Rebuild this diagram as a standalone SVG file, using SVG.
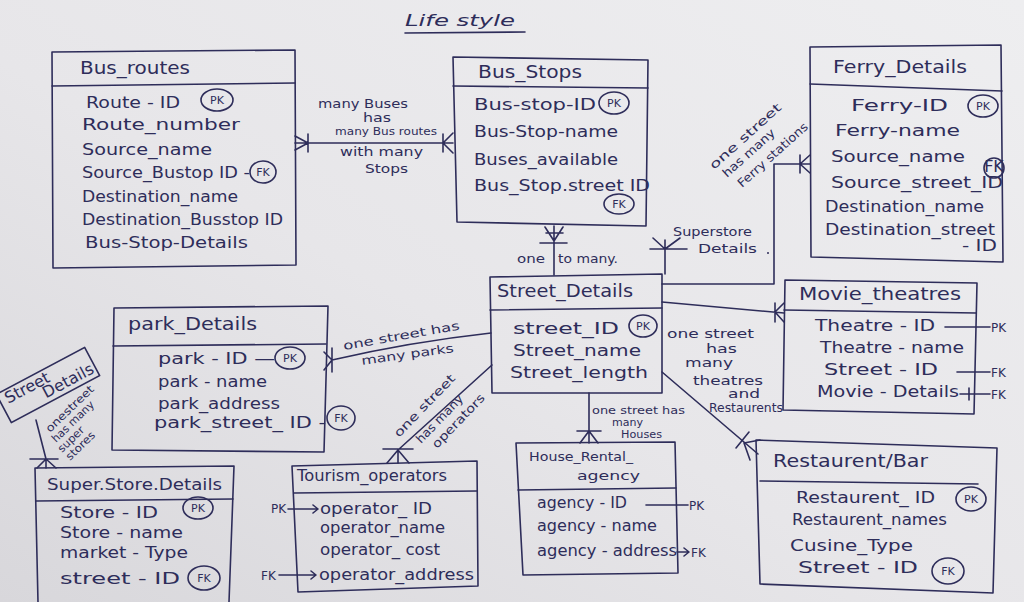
<svg xmlns="http://www.w3.org/2000/svg" width="1024" height="602" viewBox="0 0 1024 602">
  <defs>
    <linearGradient id="paper" x1="1" y1="0" x2="0" y2="1">
      <stop offset="0" stop-color="#eeeef0"/>
      <stop offset="0.55" stop-color="#e7e6e9"/>
      <stop offset="1" stop-color="#d8d7db"/>
    </linearGradient>
    <style>
      .ink{fill:none;stroke:#2e2d5a;stroke-width:1.6;stroke-linecap:round;stroke-linejoin:round}
      .t{font-family:"DejaVu Sans","Liberation Sans",sans-serif;fill:#2e2d5a;font-size:16px}
      .h{font-size:17px}
      .s{font-size:12px}
      .xs{font-size:11px}
      .k{font-size:11px}
    </style>
  </defs>

  <rect x="0" y="0" width="1024" height="602" fill="url(#paper)"/>

  <!-- page title -->
  <g id="title">
    <text class="t" x="405" y="26" font-size="20" font-style="italic" textLength="110" lengthAdjust="spacingAndGlyphs">Life style</text>
    <path class="ink" d="M405,33 L525,32"/>
  </g>

  <!-- Bus_routes -->
  <g id="bus_routes">
    <path class="ink" d="M52,52 L295,50 L296,265 L53,268 Z"/>
    <path class="ink" d="M52,86 L295,83"/>
    <text class="t h" x="80" y="74" textLength="110" lengthAdjust="spacingAndGlyphs">Bus_routes</text>
    <text class="t" x="86" y="108" textLength="94" lengthAdjust="spacingAndGlyphs">Route - ID</text>
    <ellipse class="ink" cx="217" cy="100" rx="16" ry="11"/>
    <text class="t k" x="217" y="104" text-anchor="middle">PK</text>
    <text class="t" x="82" y="130" textLength="158" lengthAdjust="spacingAndGlyphs">Route_number</text>
    <text class="t" x="82" y="155" textLength="130" lengthAdjust="spacingAndGlyphs">Source_name</text>
    <text class="t" x="82" y="178" textLength="168" lengthAdjust="spacingAndGlyphs">Source_Bustop ID -</text>
    <ellipse class="ink" cx="263" cy="172" rx="13" ry="11"/>
    <text class="t k" x="263" y="176" text-anchor="middle">FK</text>
    <text class="t" x="82" y="202" textLength="156" lengthAdjust="spacingAndGlyphs">Destination_name</text>
    <text class="t" x="82" y="225" textLength="201" lengthAdjust="spacingAndGlyphs">Destination_Busstop ID</text>
    <text class="t" x="85" y="248" textLength="163" lengthAdjust="spacingAndGlyphs">Bus-Stop-Details</text>
  </g>

  <!-- Bus_Stops -->
  <g id="bus_stops">
    <path class="ink" d="M453,57 L648,60 L646,226 L457,222 Z"/>
    <path class="ink" d="M453,86 L648,88"/>
    <text class="t h" x="478" y="78" textLength="104" lengthAdjust="spacingAndGlyphs">Bus_Stops</text>
    <text class="t" x="474" y="110" textLength="122" lengthAdjust="spacingAndGlyphs">Bus-stop-ID</text>
    <ellipse class="ink" cx="614" cy="103" rx="15" ry="11"/>
    <text class="t k" x="614" y="107" text-anchor="middle">PK</text>
    <text class="t" x="474" y="137" textLength="144" lengthAdjust="spacingAndGlyphs">Bus-Stop-name</text>
    <text class="t" x="474" y="165" textLength="144" lengthAdjust="spacingAndGlyphs">Buses_available</text>
    <text class="t" x="474" y="191" textLength="176" lengthAdjust="spacingAndGlyphs">Bus_Stop.street ID</text>
    <ellipse class="ink" cx="619" cy="204" rx="15" ry="10"/>
    <text class="t k" x="619" y="208" text-anchor="middle">FK</text>
  </g>

  <!-- Ferry_Details -->
  <g id="ferry_details">
    <path class="ink" d="M810,47 L1001,45 L1003,262 L811,257 Z"/>
    <path class="ink" d="M810,84 L1002,91"/>
    <text class="t h" x="833" y="73" textLength="134" lengthAdjust="spacingAndGlyphs">Ferry_Details</text>
    <text class="t" x="851" y="111" textLength="97" lengthAdjust="spacingAndGlyphs">Ferry-ID</text>
    <ellipse class="ink" cx="983" cy="106" rx="15" ry="11"/>
    <text class="t k" x="983" y="110" text-anchor="middle">PK</text>
    <text class="t" x="835" y="136" textLength="125" lengthAdjust="spacingAndGlyphs">Ferry-name</text>
    <text class="t" x="831" y="162" textLength="134" lengthAdjust="spacingAndGlyphs">Source_name</text>
    <ellipse class="ink" cx="994" cy="168" rx="10" ry="10"/>
    <text class="t" x="994" y="172" text-anchor="middle" font-size="10">FK</text>
    <text class="t" x="831" y="188" textLength="172" lengthAdjust="spacingAndGlyphs">Source_street_ID</text>
    <text class="t" x="825" y="212" textLength="159" lengthAdjust="spacingAndGlyphs">Destination_name</text>
    <text class="t" x="825" y="235" textLength="170" lengthAdjust="spacingAndGlyphs">Destination_street</text>
    <text class="t" x="962" y="251" textLength="35" lengthAdjust="spacingAndGlyphs">- ID</text>
  </g>

  <!-- Street_Details -->
  <g id="street_details">
    <path class="ink" d="M490,277 L662,274 L662,393 L492,393 Z"/>
    <path class="ink" d="M490,310 L662,308"/>
    <text class="t h" x="497" y="297" textLength="136" lengthAdjust="spacingAndGlyphs">Street_Details</text>
    <text class="t" x="513" y="334" textLength="106" lengthAdjust="spacingAndGlyphs">street_ID</text>
    <ellipse class="ink" cx="643" cy="326" rx="14" ry="11"/>
    <text class="t k" x="643" y="330" text-anchor="middle">PK</text>
    <text class="t" x="513" y="356" textLength="128" lengthAdjust="spacingAndGlyphs">Street_name</text>
    <text class="t" x="510" y="378" textLength="138" lengthAdjust="spacingAndGlyphs">Street_length</text>
  </g>

  <!-- Movie_theatres -->
  <g id="movie_theatres">
    <path class="ink" d="M785,280 L977,283 L974,414 L783,410 Z"/>
    <path class="ink" d="M784,310 L976,313"/>
    <text class="t h" x="799" y="300" textLength="162" lengthAdjust="spacingAndGlyphs">Movie_theatres</text>
    <text class="t" x="815" y="331" textLength="120" lengthAdjust="spacingAndGlyphs">Theatre - ID</text>
    <path class="ink" d="M945,327 H990"/>
    <text class="t s" x="991" y="332">PK</text>
    <text class="t" x="820" y="353" textLength="144" lengthAdjust="spacingAndGlyphs">Theatre - name</text>
    <text class="t" x="824" y="375" textLength="114" lengthAdjust="spacingAndGlyphs">Street - ID</text>
    <path class="ink" d="M957,372 H990"/>
    <text class="t s" x="991" y="377">FK</text>
    <text class="t" x="817" y="397" textLength="142" lengthAdjust="spacingAndGlyphs">Movie - Details</text>
    <path class="ink" d="M960,394 H990 M969,388 V400"/>
    <text class="t s" x="991" y="399">FK</text>
  </g>

  <!-- park_Details -->
  <g id="park_details">
    <path class="ink" d="M114,308 L328,306 L324,452 L112,450 Z"/>
    <path class="ink" d="M113,346 L326,344"/>
    <text class="t h" x="128" y="330" textLength="129" lengthAdjust="spacingAndGlyphs">park_Details</text>
    <text class="t" x="158" y="364" textLength="117" lengthAdjust="spacingAndGlyphs">park - ID —</text>
    <ellipse class="ink" cx="290" cy="358" rx="15" ry="11"/>
    <text class="t k" x="290" y="362" text-anchor="middle">PK</text>
    <text class="t" x="158" y="387" textLength="109" lengthAdjust="spacingAndGlyphs">park - name</text>
    <text class="t" x="158" y="409" textLength="122" lengthAdjust="spacingAndGlyphs">park_address</text>
    <text class="t" x="154" y="428" textLength="172" lengthAdjust="spacingAndGlyphs">park_street_ ID -</text>
    <ellipse class="ink" cx="341" cy="418" rx="14" ry="12"/>
    <text class="t k" x="341" y="422" text-anchor="middle">FK</text>
  </g>

  <!-- House_Rental_agency -->
  <g id="house_rental_agency">
    <path class="ink" d="M516,443 L675,442 L678,573 L523,575 Z"/>
    <path class="ink" d="M518,490 L676,488"/>
    <text class="t s" x="529" y="461" textLength="104" lengthAdjust="spacingAndGlyphs">House_Rental_</text>
    <text class="t s" x="577" y="480" textLength="63" lengthAdjust="spacingAndGlyphs">agency</text>
    <text class="t" x="537" y="508" font-size="14" textLength="90" lengthAdjust="spacingAndGlyphs">agency - ID</text>
    <path class="ink" d="M646,505 H688"/>
    <text class="t s" x="689" y="510">PK</text>
    <text class="t" x="537" y="531" font-size="14" textLength="120" lengthAdjust="spacingAndGlyphs">agency - name</text>
    <text class="t" x="537" y="556" font-size="14" textLength="140" lengthAdjust="spacingAndGlyphs">agency - address</text>
    <path class="ink" d="M677,552 H688 M684,548 L689,552 L684,556"/>
    <text class="t s" x="691" y="557">FK</text>
  </g>

  <!-- Restaurent/Bar -->
  <g id="restaurent_bar">
    <path class="ink" d="M756,440 L997,448 L993,593 L760,584 Z"/>
    <path class="ink" d="M760,481 L978,484"/>
    <text class="t h" x="773" y="467" textLength="155" lengthAdjust="spacingAndGlyphs">Restaurent/Bar</text>
    <text class="t" x="796" y="503" textLength="139" lengthAdjust="spacingAndGlyphs">Restaurent_ ID</text>
    <ellipse class="ink" cx="971" cy="499" rx="15" ry="12"/>
    <text class="t k" x="971" y="503" text-anchor="middle">PK</text>
    <text class="t" x="792" y="525" textLength="155" lengthAdjust="spacingAndGlyphs">Restaurent_names</text>
    <text class="t" x="790" y="551" textLength="123" lengthAdjust="spacingAndGlyphs">Cusine_Type</text>
    <text class="t" x="798" y="573" textLength="120" lengthAdjust="spacingAndGlyphs">Street - ID</text>
    <ellipse class="ink" cx="948" cy="571" rx="16" ry="13"/>
    <text class="t k" x="948" y="575" text-anchor="middle">FK</text>
  </g>

  <!-- Tourism_operators -->
  <g id="tourism_operators">
    <path class="ink" d="M292,466 L477,461 L478,586 L298,592 Z"/>
    <path class="ink" d="M294,493 L477,491"/>
    <text class="t" x="297" y="481" font-size="15" textLength="150" lengthAdjust="spacingAndGlyphs">Tourism_operators</text>
    <text class="t s" x="271" y="513">PK</text>
    <path class="ink" d="M288,509 H318 M313,505 L318,509 L313,513"/>
    <text class="t" x="320" y="514" font-size="15" textLength="112" lengthAdjust="spacingAndGlyphs">operator_ ID</text>
    <text class="t" x="320" y="533" font-size="15" textLength="125" lengthAdjust="spacingAndGlyphs">operator_name</text>
    <text class="t" x="320" y="555" font-size="15" textLength="120" lengthAdjust="spacingAndGlyphs">operator_ cost</text>
    <text class="t s" x="261" y="580">FK</text>
    <path class="ink" d="M279,575 H316 M311,571 L316,575 L311,579"/>
    <text class="t" x="319" y="580" font-size="15" textLength="155" lengthAdjust="spacingAndGlyphs">operator_address</text>
  </g>

  <!-- Super.Store.Details -->
  <g id="super_store_details">
    <path class="ink" d="M35,468 L234,466 L229,602 M38,602 L35,468"/>
    <path class="ink" d="M36,501 L233,499"/>
    <text class="t" x="47" y="490" textLength="175" lengthAdjust="spacingAndGlyphs">Super.Store.Details</text>
    <text class="t" x="60" y="518" textLength="98" lengthAdjust="spacingAndGlyphs">Store - ID</text>
    <ellipse class="ink" cx="198" cy="508" rx="15" ry="11"/>
    <text class="t k" x="198" y="512" text-anchor="middle">PK</text>
    <text class="t" x="60" y="538" textLength="123" lengthAdjust="spacingAndGlyphs">Store - name</text>
    <text class="t" x="60" y="558" textLength="128" lengthAdjust="spacingAndGlyphs">market - Type</text>
    <text class="t" x="60" y="584" textLength="120" lengthAdjust="spacingAndGlyphs">street - ID</text>
    <ellipse class="ink" cx="204" cy="578" rx="16" ry="12"/>
    <text class="t k" x="204" y="582" text-anchor="middle">FK</text>
  </g>

  <!-- small tilted Street Details tag -->
  <g id="street_details_tag" transform="translate(48,385) rotate(-28)">
    <rect class="ink" x="-50" y="-16" width="100" height="32"/>
    <text class="t" x="-44" y="-2" font-size="12">Street</text>
    <text class="t" x="-8" y="11" font-size="12">Details</text>
  </g>

  <!-- relationships -->
  <g id="connectors">
    <!-- Bus_routes : Bus_Stops -->
    <path class="ink" d="M295,143 H453 M295,136 L308,143 L295,150 M308,134 V152 M443,134 V152 M443,143 L453,133 M443,143 L453,153"/>
    <text class="t s" x="318" y="108" textLength="90" lengthAdjust="spacingAndGlyphs">many Buses</text>
    <text class="t s" x="363" y="122" textLength="28" lengthAdjust="spacingAndGlyphs">has</text>
    <text class="t xs" x="335" y="135" textLength="102" lengthAdjust="spacingAndGlyphs">many Bus routes</text>
    <text class="t s" x="340" y="156" textLength="83" lengthAdjust="spacingAndGlyphs">with many</text>
    <text class="t s" x="365" y="173" textLength="43" lengthAdjust="spacingAndGlyphs">Stops</text>

    <!-- Bus_Stops : Street_Details -->
    <path class="ink" d="M554,226 V275 M546,233 H563 M540,243 H567 M554,241 L545,227 M554,241 L563,227"/>
    <text class="t s" x="517" y="263" textLength="28" lengthAdjust="spacingAndGlyphs">one</text>
    <text class="t s" x="558" y="263" textLength="60" lengthAdjust="spacingAndGlyphs">to many.</text>

    <!-- Superstore details -->
    <path class="ink" d="M665,240 V274 M650,249 H687 M665,249 L653,238 M665,249 L680,238"/>
    <text class="t s" x="673" y="236" textLength="79" lengthAdjust="spacingAndGlyphs">Superstore</text>
    <text class="t s" x="698" y="253" textLength="59" lengthAdjust="spacingAndGlyphs">Details</text>
    <circle cx="768" cy="253" r="1" fill="#2e2d5a"/>

    <!-- Street_Details : Ferry_Details -->
    <path class="ink" d="M662,284 H774 V164 H810 M800,155 V173 M800,164 L810,155 M800,164 L810,173"/>
    <text class="t s" transform="translate(714,170) rotate(-42)" textLength="92" lengthAdjust="spacingAndGlyphs">one street</text>
    <text class="t s" transform="translate(727,178) rotate(-42)" textLength="66" lengthAdjust="spacingAndGlyphs">has many</text>
    <text class="t s" transform="translate(742,188) rotate(-42)" textLength="90" lengthAdjust="spacingAndGlyphs">Ferry stations</text>

    <!-- Street_Details : Movie_theatres -->
    <path class="ink" d="M662,302 L784,313 M775,303 V322 M775,312 L784,303 M775,312 L784,322"/>

    <!-- Street_Details : Restaurent/Bar -->
    <path class="ink" d="M662,372 L758,454 M749,432 L736,448 M744,443 L760,440 M744,443 L750,460"/>
    <text class="t s" x="667" y="338" textLength="87" lengthAdjust="spacingAndGlyphs">one street</text>
    <text class="t s" x="706" y="353" textLength="31" lengthAdjust="spacingAndGlyphs">has</text>
    <text class="t s" x="685" y="367" textLength="48" lengthAdjust="spacingAndGlyphs">many</text>
    <text class="t s" x="693" y="385" textLength="70" lengthAdjust="spacingAndGlyphs">theatres</text>
    <text class="t s" x="728" y="398" textLength="32" lengthAdjust="spacingAndGlyphs">and</text>
    <text class="t s" x="709" y="412" textLength="74" lengthAdjust="spacingAndGlyphs">Restaurents</text>

    <!-- Street_Details : House_Rental_agency -->
    <path class="ink" d="M589,393 V443 M577,431 H601 M589,431 L580,443 M589,431 L598,443"/>
    <text class="t xs" x="592" y="414" textLength="93" lengthAdjust="spacingAndGlyphs">one street has</text>
    <text class="t xs" x="612" y="426" textLength="31" lengthAdjust="spacingAndGlyphs">many</text>
    <text class="t xs" x="621" y="438" textLength="41" lengthAdjust="spacingAndGlyphs">Houses</text>

    <!-- Street_Details : park_Details -->
    <path class="ink" d="M491,333 Q410,342 332,360 M332,348 V372 M332,360 L324,352 M332,360 L324,370"/>
    <text class="t s" transform="translate(344,350) rotate(-10)" textLength="118" lengthAdjust="spacingAndGlyphs">one street has</text>
    <text class="t s" transform="translate(362,365) rotate(-8)" textLength="93" lengthAdjust="spacingAndGlyphs">many parks</text>

    <!-- Street_Details : Tourism_operators -->
    <path class="ink" d="M492,365 L398,450 V463 M383,449 H413 M398,450 L387,463 M398,450 L409,463"/>
    <text class="t s" transform="translate(399,438) rotate(-46)" textLength="82" lengthAdjust="spacingAndGlyphs">one street</text>
    <text class="t s" transform="translate(421,444) rotate(-46)" textLength="62" lengthAdjust="spacingAndGlyphs">has many</text>
    <text class="t s" transform="translate(437,449) rotate(-46)" textLength="70" lengthAdjust="spacingAndGlyphs">operators</text>

    <!-- Street Details tag : Super.Store.Details -->
    <path class="ink" d="M36,420 L46,459 M30,459 H58 M46,459 L37,468 M46,459 V468 M46,459 L56,468"/>
    <text class="t xs" transform="translate(50,433) rotate(-44)" textLength="62" lengthAdjust="spacingAndGlyphs">onestreet</text>
    <text class="t xs" transform="translate(56,443) rotate(-44)" textLength="54" lengthAdjust="spacingAndGlyphs">has many</text>
    <text class="t xs" transform="translate(62,453) rotate(-44)" textLength="32" lengthAdjust="spacingAndGlyphs">super</text>
    <text class="t xs" transform="translate(70,461) rotate(-44)" textLength="36" lengthAdjust="spacingAndGlyphs">stores</text>
  </g>
</svg>
